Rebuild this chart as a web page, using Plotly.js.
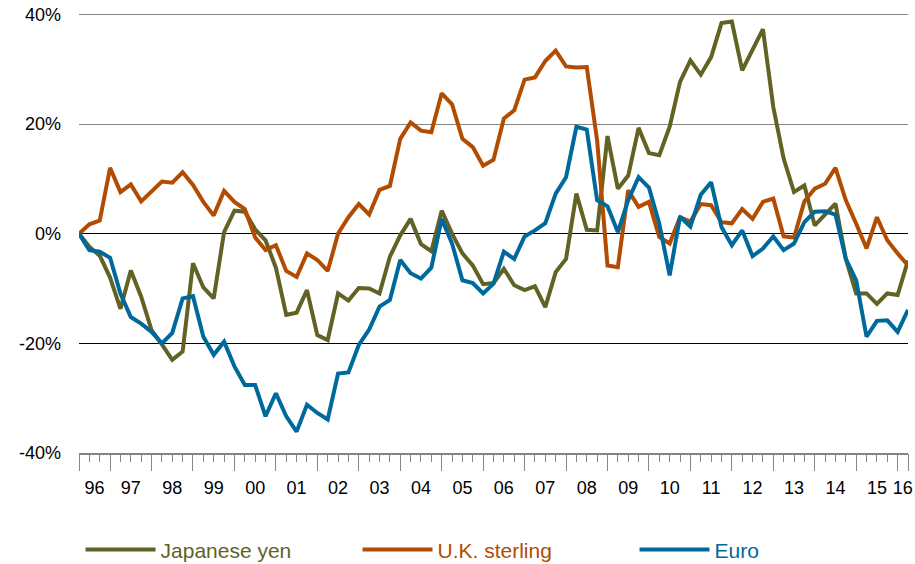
<!DOCTYPE html>
<html>
<head>
<meta charset="utf-8">
<script src="https://cdn.plot.ly/plotly-3.0.1.min.js"></script>
<style>html,body{margin:0;padding:0;background:#fff}#chart{width:915px;height:564px}</style>
</head>
<body>
<div id="chart"></div>
<script>
// Quarterly observations, 1996 Q1 .. 2016 Q1
const quarters = [];
for (let y = 1996; y <= 2016; y++) {
  for (let q = 1; q <= 4; q++) {
    if (y === 2016 && q > 1) break;
    quarters.push(y + ' Q' + q);
  }
}

const yearLabels = ['96','97','98','99','00','01','02','03','04','05','06','07','08','09','10','11','12','13','14','15','16'];
const yTickValues = [-40, -20, 0, 20, 40];
const yTickLabels = ['-40%', '-20%', '0%', '20%', '40%'];
const seriesNames = ['Japanese yen', 'U.K. sterling', 'Euro'];

const japaneseYen = [
  0, -2.4, -4.0, -8.0, -13.7, -6.7, -11.5, -17.6, -20.2, -23.0,
  -21.5, -5.4, -9.8, -11.8, 0.3, 4.2, 4.0, 0.8, -1.2, -6.2,
  -14.8, -14.4, -10.3, -18.5, -19.4, -10.9, -12.2, -9.9, -10.0, -10.9,
  -4.2, -0.3, 2.7, -1.9, -3.2, 4.2, 0.0, -3.6, -5.8, -9.2,
  -9.0, -6.4, -9.4, -10.3, -9.6, -13.4, -7.0, -4.6, 7.3, 0.7,
  0.6, 17.8, 8.2, 10.6, 19.3, 14.7, 14.3, 19.5, 27.7, 31.6,
  29.0, 32.2, 38.4, 38.7, 29.8, 33.5, 37.3, 23.1, 13.7, 7.6,
  8.8, 1.5, 3.5, 5.5, -4.6, -10.9, -10.9, -12.8, -10.9, -11.2,
  -4.9
];

const ukSterling = [
  0, 1.7, 2.4, 12.0, 7.6, 9.0, 5.9, 7.8, 9.5, 9.3,
  11.2, 8.9, 5.8, 3.3, 7.8, 5.8, 4.5, -0.7, -3.0, -2.1,
  -6.8, -7.9, -3.6, -4.8, -6.8, 0.0, 3.0, 5.4, 3.5, 8.0,
  8.7, 17.3, 20.3, 18.8, 18.5, 25.6, 23.6, 17.3, 15.8, 12.4,
  13.5, 21.0, 22.5, 28.1, 28.5, 31.5, 33.4, 30.5, 30.3, 30.4,
  17.0, -5.8, -6.1, 7.9, 4.9, 5.8, -0.6, -1.8, 3.0, 2.2,
  5.4, 5.2, 2.1, 1.9, 4.5, 2.7, 5.8, 6.4, -0.5, -0.7,
  5.9, 8.2, 9.1, 12.0, 6.1, 1.8, -2.7, 3.0, -1.2, -3.6,
  -5.8
];

const euro = [
  0, -3.0, -3.3, -4.4, -10.9, -15.2, -16.4, -17.9, -20.0, -18.1,
  -11.8, -11.4, -18.8, -22.1, -19.7, -24.2, -27.6, -27.6, -33.3, -29.1,
  -33.3, -36.1, -31.2, -32.7, -33.9, -25.5, -25.3, -20.3, -17.5, -13.3,
  -12.1, -4.8, -7.2, -8.2, -6.2, 2.7, -1.8, -8.5, -9.0, -10.9,
  -9.1, -3.3, -4.6, -0.5, 0.6, 1.9, 7.3, 10.3, 19.5, 19.0,
  6.1, 5.0, 0.3, 6.1, 10.3, 8.4, 1.8, -7.6, 3.1, 1.3,
  7.1, 9.4, 1.2, -2.1, 0.6, -4.1, -2.7, -0.5, -3.0, -1.8,
  2.1, 4.0, 4.1, 3.5, -4.6, -8.5, -18.8, -15.9, -15.8, -17.9,
  -13.9
];

const colors = ['#616224', '#b24c02', '#00699c'];
const FONT = 'Liberation Sans, Arial, Helvetica, sans-serif';

// positions on the quarterly scale
const xIndex = quarters.map((_, i) => i);
const lastIdx = quarters.length - 1;
// year boundaries: first observation, every Q4, last observation
const boundaries = [0];
quarters.forEach((q, i) => { if (q.endsWith('Q4')) boundaries.push(i); });
boundaries.push(lastIdx);
const labelPos = [];
for (let k = 0; k < boundaries.length - 1; k++) labelPos.push((boundaries[k] + boundaries[k + 1]) / 2);

const seriesData = [japaneseYen, ukSterling, euro];
const traces = seriesData.map((vals, k) => ({
  type: 'scatter',
  mode: 'lines',
  x: xIndex,
  y: vals,
  text: quarters,
  name: '<span style="color:' + colors[k] + '">' + seriesNames[k] + '</span>',
  line: { color: colors[k], width: 4, shape: 'linear' },
  hovertemplate: '%{text}: %{y:.1f}%<extra></extra>'
}));

// empty helper traces so that the overlay axes (grid lines, tick marks) get drawn
const helper = (xa, ya) => ({ type: 'scatter', mode: 'lines', x: [], y: [], xaxis: xa, yaxis: ya, showlegend: false, hoverinfo: 'skip' });
const allTraces = [helper('x', 'y2'), helper('x', 'y3'), helper('x2', 'y')].concat(traces);

const gray = '#858585';
const yRange = [-40, 40.25]; // small headroom so the 40% grid line is drawn
const layout = {
  width: 915,
  height: 564,
  margin: { l: 79, r: 7, t: 13, b: 111, pad: 0, autoexpand: false },
  paper_bgcolor: '#ffffff',
  plot_bgcolor: '#ffffff',
  showlegend: true,
  legend: {
    orientation: 'h',
    xref: 'container', yref: 'container',
    x: 0.088, xanchor: 'left',
    y: 0.025, yanchor: 'middle',
    itemwidth: 70,
    entrywidth: 192, entrywidthmode: 'pixels',
    font: { family: FONT, size: 21, color: '#000' },
    bgcolor: 'rgba(0,0,0,0)',
    borderwidth: 0,
    tracegroupgap: 0
  },
  xaxis: {
    range: [0, lastIdx],
    tickmode: 'array',
    tickvals: labelPos,
    ticktext: yearLabels,
    ticks: '',
    showline: true, linecolor: gray, linewidth: 1.5,
    showgrid: false, zeroline: false,
    ticklabelstandoff: 18,
    tickfont: { family: FONT, size: 18, color: '#000' },
    fixedrange: true
  },
  xaxis2: {
    overlaying: 'x', anchor: 'y', side: 'bottom',
    range: [0, lastIdx],
    tickmode: 'array',
    tickvals: boundaries,
    ticks: 'outside', ticklen: 17, tickwidth: 1.3, tickcolor: gray,
    showticklabels: false, showgrid: false, zeroline: false, showline: false,
    minor: { tickmode: 'linear', tick0: 0, dtick: 1, ticks: 'outside', ticklen: 8, tickwidth: 1.3, tickcolor: gray, showgrid: false },
    fixedrange: true
  },
  yaxis: {
    range: yRange,
    tickmode: 'array',
    tickvals: yTickValues,
    ticktext: yTickLabels,
    ticks: '',
    showgrid: false, zeroline: false, showline: false,
    ticklabelstandoff: 17,
    tickfont: { family: FONT, size: 18, color: '#000' },
    fixedrange: true
  },
  yaxis2: {
    overlaying: 'y', anchor: 'x',
    range: yRange,
    tickmode: 'array', tickvals: [20, 40],
    showgrid: true, gridcolor: gray, gridwidth: 1.3,
    showticklabels: false, ticks: '', zeroline: false, showline: false,
    fixedrange: true
  },
  yaxis3: {
    overlaying: 'y', anchor: 'x',
    range: yRange,
    tickmode: 'array', tickvals: [-20, 0],
    showgrid: true, gridcolor: '#000000', gridwidth: 1.2,
    showticklabels: false, ticks: '', zeroline: false, showline: false,
    fixedrange: true
  }
};

Plotly.newPlot('chart', allTraces, layout, { displayModeBar: false, responsive: false });
</script>
</body>
</html>
